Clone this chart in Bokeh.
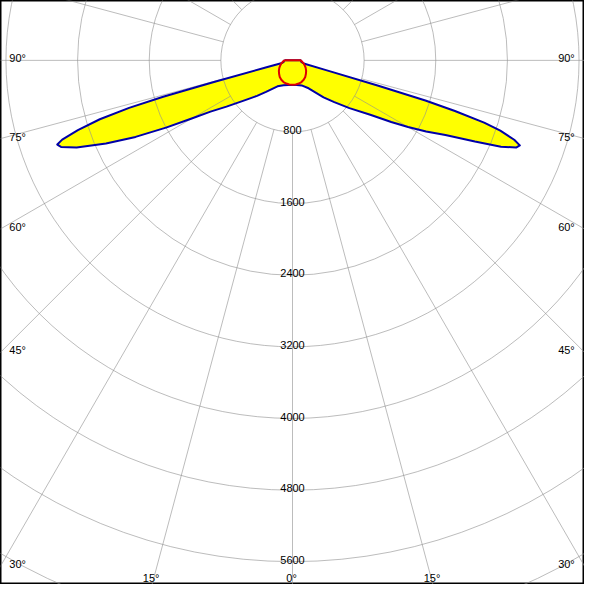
import math
from bokeh.plotting import figure
from bokeh.models import Range1d
from bokeh.core.properties import value
from bokeh.embed import file_html
from bokeh.resources import INLINE

# ---- data: luminous intensity (cd) vs gamma angle (deg) ----
# C180 half-plane (left lobe)
c180_gamma = [0, 10, 20, 30, 40, 45, 50, 55, 58, 60, 62, 64, 66, 68, 69.5, 70.3,
              71, 72, 73, 73.8, 74.3, 74.6, 75, 76, 80, 85, 90]
c180_cd = [275, 280, 295, 335, 460, 560, 690, 900, 1080, 1300, 1600, 1950, 2280, 2600,
           2760, 2790, 2720, 2520, 2250, 1900, 1500, 900, 300, 120, 100, 95, 90]
# C0 half-plane (right lobe)
c0_gamma = [0, 10, 20, 30, 40, 45, 50, 55, 58, 60, 62, 64, 66, 67.5, 68.7, 69.5,
            70.3, 71.3, 72, 72.7, 73.2, 73.5, 73.8, 74.5, 80, 85, 90]
c0_cd = [275, 280, 298, 360, 540, 660, 830, 1060, 1300, 1490, 1690, 1900, 2230, 2520,
         2680, 2710, 2630, 2450, 2250, 1900, 1550, 1000, 400, 130, 100, 95, 90]
# C90 / C270 plane (red)
c90_gamma = [0, 7.5, 15, 22.5, 30, 37.5, 45, 52.5, 60, 67.5, 75, 82.5, 90]
c90_cd = [272, 271, 268, 262, 250, 234, 212, 192, 170, 148, 128, 108, 90]

ring_values = [800, 1600, 2400, 3200, 4000, 4800, 5600]
grid_rings = [800, 1600, 2400, 3200, 4000, 4800, 5600, 6400, 7200]
spoke_angles = list(range(0, 360, 15))
side_angles = [90, 75, 60, 45, 30]
bottom_angles = [-15, 0, 15]

# ---- geometry ----
W = H = 584
S = W / 600.0          # reference px -> our px
K = 0.092              # reference px per cd
XMAX = 300 / K
YTOP = 61.5 / K
YBOT = -(600 - 61.5) / K

def pol(g, i, side):
    r = math.radians(g)
    return side * i * math.sin(r), -i * math.cos(r)

def half(gs, cs, side, reverse):
    pts = [pol(g, c, side) for g, c in zip(gs, cs)]
    return pts[::-1] if reverse else pts

blue_pts = half(c180_gamma, c180_cd, -1, True) + half(c0_gamma, c0_cd, 1, False)[1:]
red_pts = half(c90_gamma, c90_cd, -1, True) + half(c90_gamma, c90_cd, 1, False)[1:]
bx = [p[0] for p in blue_pts] + [blue_pts[0][0]]
by = [p[1] for p in blue_pts] + [blue_pts[0][1]]
rx = [p[0] for p in red_pts] + [red_pts[0][0]]
ry = [p[1] for p in red_pts] + [red_pts[0][1]]

p = figure(width=W, height=H, output_backend="svg", toolbar_location=None,
           x_range=Range1d(-XMAX, XMAX), y_range=Range1d(YBOT, YTOP),
           min_border=0)
p.axis.visible = False
p.grid.visible = False
p.outline_line_color = "black"
p.outline_line_width = 2
p.background_fill_color = "white"
p.border_fill_color = "white"

# fill
p.patch(bx, by, fill_color="#ffff00", line_color=None)

# grid
GRID = dict(line_color="#909090", line_alpha=0.6, line_width=1)
p.circle(x=[0] * len(grid_rings), y=[0] * len(grid_rings), radius=grid_rings,
         fill_color=None, **GRID)
sx0, sy0, sx1, sy1 = [], [], [], []
for a in spoke_angles:
    ra = math.radians(a)
    sx0.append(800 * math.sin(ra)); sy0.append(-800 * math.cos(ra))
    sx1.append(9000 * math.sin(ra)); sy1.append(-9000 * math.cos(ra))
p.segment(x0=sx0, y0=sy0, x1=sx1, y1=sy1, **GRID)

# curves
p.line(bx, by, line_color="#0000a8", line_width=2, line_join="round")
p.line(rx, ry, line_color="#e00000", line_width=2, line_join="round")

FONT = dict(text_font=value("Liberation Sans"), text_font_size="11px",
            text_color="black", text_baseline="alphabetic")

# intensity labels
p.text(x=[0] * len(ring_values), y=[-v for v in ring_values],
       text=[str(v) for v in ring_values], text_align="center",
       y_offset=-2 * S, **FONT)

# side angle labels
ly = [-XMAX * math.cos(math.radians(a)) / math.sin(math.radians(a)) for a in side_angles]
lbl = [f"{a}°" for a in side_angles]
p.text(x=[-XMAX] * len(side_angles), y=ly, text=lbl, text_align="left",
       x_offset=9 * S, y_offset=-2 * S, **FONT)
p.text(x=[XMAX] * len(side_angles), y=ly, text=lbl, text_align="right",
       x_offset=-10 * S, y_offset=-2 * S, **FONT)

# bottom angle labels
bxl = [-YBOT * math.tan(math.radians(a)) for a in bottom_angles]
p.text(x=bxl, y=[YBOT] * len(bottom_angles), text=[f"{abs(a)}°" for a in bottom_angles],
       text_align="center", x_offset=-1 * S, y_offset=-7 * S, **FONT)

open("out.html", "w").write(file_html(p, INLINE))
